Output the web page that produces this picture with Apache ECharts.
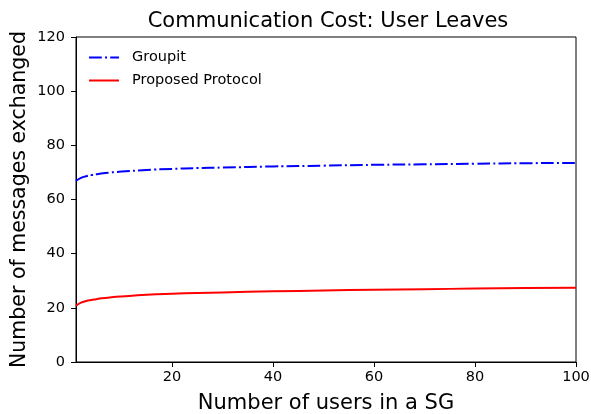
<!DOCTYPE html>
<html>
<head>
<meta charset="utf-8">
<script src="https://cdn.jsdelivr.net/npm/echarts@6/dist/echarts.min.js"></script>
<style>
  html, body { margin: 0; padding: 0; background: #fff; }
  #chart { width: 591px; height: 414px; }
</style>
</head>
<body>
<div id="chart"></div>
<script>
// Group sizes (users in a SG)
const users = [1, 2, 3, 4, 5, 6, 8, 10, 15, 20, 25, 30, 40, 50, 60, 70, 80, 90, 100];
// Messages exchanged when a user leaves
const groupit = [66.9, 68.0, 68.6, 69.0, 69.3, 69.6, 70.0, 70.3, 70.9, 71.3, 71.6, 71.8, 72.2, 72.5, 72.8, 73.0, 73.2, 73.4, 73.5];
const proposed = [20.8, 21.9, 22.5, 22.9, 23.2, 23.5, 23.9, 24.2, 24.8, 25.2, 25.5, 25.7, 26.1, 26.4, 26.7, 26.9, 27.1, 27.3, 27.4];
const xTicks = [20, 40, 60, 80, 100];

const font = 'DejaVu Sans';
const pairs = (ys) => users.map((x, i) => [x, ys[i]]);

const chart = echarts.init(document.getElementById('chart'), null, { renderer: 'canvas' });
chart.setOption({
  animation: false,
  backgroundColor: '#fff',
  textStyle: { fontFamily: font },
  title: {
    text: 'Communication Cost: User Leaves',
    left: 323, top: 6, textAlign: 'center',
    textStyle: { fontFamily: font, fontSize: 21, fontWeight: 'normal', color: '#000' }
  },
  legend: {
    orient: 'vertical', left: 83, top: 45,
    itemWidth: 30, itemHeight: 12, itemGap: 8,
    itemStyle: { opacity: 0 },
    textStyle: { fontFamily: font, fontSize: 14.5, color: '#000', padding: [0, 0, 0, 8] },
    data: ['Groupit', 'Proposed Protocol']
  },
  grid: {
    left: 76, right: 15, top: 37, bottom: 52,
    outerBoundsMode: 'none', containLabel: false,
    show: true, borderColor: '#000', borderWidth: 1, backgroundColor: 'transparent'
  },
  xAxis: {
    type: 'value', min: 1, max: 100,
    name: 'Number of users in a SG', nameLocation: 'middle', nameGap: 31,
    nameTextStyle: { fontFamily: font, fontSize: 21, color: '#000' },
    axisLine: { show: true, lineStyle: { color: '#000', width: 1 } },
    axisTick: { show: true, length: 5, customValues: xTicks, lineStyle: { color: '#000' } },
    axisLabel: { customValues: xTicks, fontFamily: font, fontSize: 14.5, color: '#000', margin: 8 },
    splitLine: { show: false }
  },
  yAxis: {
    type: 'value', min: 0, max: 120, interval: 20,
    name: 'Number of messages exchanged', nameLocation: 'middle', nameGap: 46,
    nameMoveOverlap: false,
    nameTextStyle: { fontFamily: font, fontSize: 20.5, color: '#000' },
    axisLine: { show: true, lineStyle: { color: '#000', width: 1 } },
    axisTick: { show: true, length: 5, lineStyle: { color: '#000' } },
    axisLabel: { fontFamily: font, fontSize: 14.5, color: '#000', margin: 11 },
    splitLine: { show: false }
  },
  series: [
    {
      name: 'Groupit', type: 'line', data: pairs(groupit), smooth: true,
      symbol: 'none', color: '#0000ff',
      lineStyle: { color: '#0000ff', width: 2, type: [12.8, 3.2, 2, 3.2] }
    },
    {
      name: 'Proposed Protocol', type: 'line', data: pairs(proposed), smooth: true,
      symbol: 'none', color: '#ff0000',
      lineStyle: { color: '#ff0000', width: 2 }
    }
  ]
});
</script>
</body>
</html>
